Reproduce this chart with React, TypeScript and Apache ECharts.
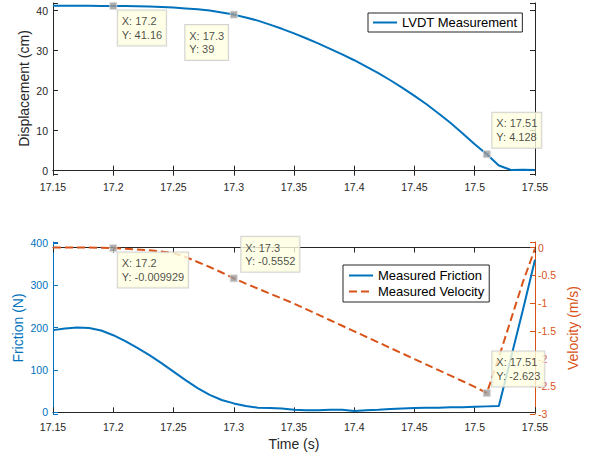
import React, { useEffect, useRef } from 'react';
import * as echarts from 'echarts';

const times = [
  17.15, 17.16, 17.17, 17.18, 17.19, 17.2, 17.21, 17.22, 17.23, 17.24,
  17.25, 17.26, 17.27, 17.28, 17.29, 17.3, 17.31, 17.32, 17.33, 17.34,
  17.35, 17.36, 17.37, 17.38, 17.39, 17.4, 17.41, 17.42, 17.43, 17.44,
  17.45, 17.46, 17.47, 17.48, 17.49, 17.5, 17.51, 17.52, 17.53, 17.54, 17.55,
];

const displacement = [
  41.2, 41.2, 41.2, 41.19, 41.18, 41.16, 41.13, 41.08, 41.0, 40.9,
  40.75, 40.55, 40.35, 40.0, 39.55, 39.0, 38.3, 37.5, 36.5, 35.45,
  34.3, 33.1, 31.8, 30.45, 29.05, 27.6, 26.0, 24.4, 22.6, 20.7,
  18.7, 16.6, 14.3, 11.9, 9.3, 6.6, 4.128, 1.3, 0.2, 0.25, 0.2,
];

const friction = [
  194, 198, 200, 199, 193, 182, 168, 152, 135, 116,
  96, 76, 57, 41, 29, 21, 15, 11, 10, 9,
  6, 5, 5, 6, 6, 3, 5, 6, 8, 9,
  10, 11, 11, 12, 12, 13, 14, 15, 128, 242, 360,
];

const velocity = [
  0, 0, 0, 0, -0.005, -0.009929, -0.02, -0.035, -0.05, -0.07,
  -0.1, -0.17, -0.26, -0.35, -0.45, -0.5552, -0.65, -0.74, -0.83, -0.92,
  -1.01, -1.11, -1.21, -1.31, -1.41, -1.51, -1.61, -1.71, -1.81, -1.91,
  -2.01, -2.11, -2.21, -2.31, -2.41, -2.51, -2.623, -1.98, -1.3, -0.62, -0.02,
];

const xTickMin = 17.15;
const xTickMax = 17.55;
const xTickStep = 0.05;

const tipTimesTop = [17.2, 17.3, 17.51];
const tipValuesTop = [41.16, 39, 4.128];
const tipTimesBottom = [17.2, 17.3, 17.51];
const tipValuesBottom = [-0.009929, -0.5552, -2.623];

const BLUE = '#0072BD';
const ORANGE = '#D95319';
const AXIS = '#262626';
const FONT = '"Liberation Sans", Arial, Helvetica, sans-serif';

type Place = { dx: number; dy: number; va: string };
const placeTop: Place[] = [
  { dx: 5, dy: 5, va: 'top' },
  { dx: -48, dy: 11, va: 'top' },
  { dx: 6, dy: -6, va: 'bottom' },
];
const placeBottom: Place[] = [
  { dx: 5, dy: 5, va: 'top' },
  { dx: 8, dy: -6, va: 'bottom' },
  { dx: 6, dy: -6, va: 'bottom' },
];

const SYM = 7;

function tipData(ts: number[], vs: number[], places: Place[]) {
  return ts.map((t, i) => ({
    value: [t, vs[i]],
    label: {
      show: true,
      formatter: `X: ${t}\nY: ${vs[i]}`,
      position: [SYM / 2 + places[i].dx, SYM / 2 + places[i].dy],
      align: 'left',
      verticalAlign: places[i].va,
      backgroundColor: '#FFFFE1',
      borderColor: '#C8C8C8',
      borderWidth: 1,
      padding: [4, 4, 4, 4],
      fontSize: 11,
      lineHeight: 13.5,
      color: '#1a1a1a',
      fontFamily: FONT,
    },
  }));
}

const xFmt = (v: number) => String(Math.round(v * 100) / 100);

function xAxisCfg(gridIndex: number, bottom: boolean, withName: boolean) {
  return {
    type: 'value',
    gridIndex,
    position: bottom ? 'bottom' : 'top',
    min: xTickMin,
    max: xTickMax,
    interval: xTickStep,
    name: withName ? 'Time (s)' : '',
    nameLocation: 'middle',
    nameGap: 23,
    nameMoveOverlap: false,
    nameTextStyle: { fontSize: 14, color: AXIS, fontFamily: FONT },
    axisLine: { show: true, lineStyle: { color: AXIS, width: 1 } },
    axisTick: { show: true, inside: true, length: 5, lineStyle: { color: AXIS } },
    axisLabel: {
      show: bottom,
      formatter: xFmt,
      fontSize: 10.5,
      color: AXIS,
      fontFamily: FONT,
      margin: 7,
    },
    splitLine: { show: false },
  };
}

const legendCommon = {
  orient: 'vertical',
  itemWidth: 24,
  itemHeight: 14,
  itemGap: 3,
  borderColor: AXIS,
  borderWidth: 1,
  borderRadius: 0,
  backgroundColor: '#fff',
  itemStyle: { opacity: 0 },
  textStyle: { fontSize: 13, color: '#000', fontFamily: FONT },
};

const option: any = {
  animation: false,
  backgroundColor: '#fff',
  grid: [
    { left: 53, top: 3, width: 482, height: 171 },
    { left: 53, top: 242, width: 482, height: 172 },
  ],
  xAxis: [
    xAxisCfg(0, true, false),
    xAxisCfg(0, false, false),
    xAxisCfg(1, true, true),
    xAxisCfg(1, false, false),
  ],
  yAxis: [
    {
      type: 'value',
      gridIndex: 0,
      position: 'left',
      min: -0.82,
      max: 41.9,
      name: 'Displacement (cm)',
      nameLocation: 'middle',
      nameGap: 22,
      nameMoveOverlap: false,
      nameRotate: 90,
      nameTextStyle: { fontSize: 14, color: AXIS, fontFamily: FONT },
      axisLine: { show: true, lineStyle: { color: AXIS } },
      axisTick: { show: true, inside: true, length: 5, lineStyle: { color: AXIS } },
      axisLabel: {
        formatter: (v: number) =>
          Math.abs(v - Math.round(v / 10) * 10) < 1e-6 ? String(Math.round(v)) : '',
        fontSize: 10.5,
        color: AXIS,
        fontFamily: FONT,
        margin: 5,
      },
      splitLine: { show: false },
    },
    {
      type: 'value',
      gridIndex: 0,
      position: 'right',
      min: -0.82,
      max: 41.9,
      axisLine: { show: true, lineStyle: { color: AXIS } },
      axisTick: { show: true, inside: true, length: 5, lineStyle: { color: AXIS } },
      axisLabel: { show: false },
      splitLine: { show: false },
    },
    {
      type: 'value',
      gridIndex: 1,
      position: 'left',
      min: -4,
      max: 402,
      name: 'Friction (N)',
      nameLocation: 'middle',
      nameGap: 28,
      nameMoveOverlap: false,
      nameRotate: 90,
      nameTextStyle: { fontSize: 14, color: BLUE, fontFamily: FONT },
      axisLine: { show: true, lineStyle: { color: BLUE } },
      axisTick: { show: true, inside: true, length: 5, lineStyle: { color: BLUE } },
      axisLabel: {
        formatter: (v: number) =>
          Math.abs(v - Math.round(v / 100) * 100) < 1e-6 ? String(Math.round(v)) : '',
        fontSize: 10.5,
        color: BLUE,
        fontFamily: FONT,
        margin: 5,
      },
      splitLine: { show: false },
    },
    {
      type: 'value',
      gridIndex: 1,
      position: 'right',
      min: -3,
      max: 0.1,
      interval: 0.5,
      name: 'Velocity (m/s)',
      nameLocation: 'middle',
      nameGap: 31,
      nameMoveOverlap: false,
      nameRotate: 90,
      nameTextStyle: { fontSize: 14, color: ORANGE, fontFamily: FONT },
      axisLine: { show: true, lineStyle: { color: ORANGE } },
      axisTick: { show: true, inside: true, length: 5, lineStyle: { color: ORANGE } },
      axisLabel: {
        formatter: (v: number) =>
          Math.abs(v * 2 - Math.round(v * 2)) < 1e-6 ? String(Math.round(v * 10) / 10) : '',
        fontSize: 10.5,
        color: ORANGE,
        fontFamily: FONT,
        margin: 3,
      },
      splitLine: { show: false },
    },
  ],
  legend: [
    {
      ...legendCommon,
      data: ['LVDT Measurement'],
      left: 368,
      top: 13,
      padding: [3, 5, 3, 4],
    },
    {
      ...legendCommon,
      data: ['Measured Friction', 'Measured Velocity'],
      left: 343,
      top: 265,
      padding: [4, 5, 4, 5],
    },
  ],
  series: [
    {
      type: 'line',
      name: 'LVDT Measurement',
      xAxisIndex: 0,
      yAxisIndex: 0,
      data: times.map((t, i) => [t, displacement[i]]),
      symbol: 'none',
      lineStyle: { color: BLUE, width: 2 },
      itemStyle: { color: BLUE },
    },
    {
      type: 'line',
      name: 'Measured Friction',
      xAxisIndex: 2,
      yAxisIndex: 2,
      data: times.map((t, i) => [t, friction[i]]),
      symbol: 'none',
      lineStyle: { color: BLUE, width: 2 },
      itemStyle: { color: BLUE },
    },
    {
      type: 'line',
      name: 'Measured Velocity',
      xAxisIndex: 2,
      yAxisIndex: 3,
      data: times.map((t, i) => [t, velocity[i]]),
      symbol: 'none',
      lineStyle: { color: ORANGE, width: 2, type: [8, 4] },
      itemStyle: { color: ORANGE },
    },
    {
      type: 'scatter',
      name: 'tipsTop',
      xAxisIndex: 0,
      yAxisIndex: 0,
      symbol: 'rect',
      symbolSize: SYM,
      itemStyle: { color: '#999999', borderColor: '#d9d9d9', borderWidth: 1 },
      z: 10,
      data: tipData(tipTimesTop, tipValuesTop, placeTop),
    },
    {
      type: 'scatter',
      name: 'tipsBottom',
      xAxisIndex: 2,
      yAxisIndex: 3,
      symbol: 'rect',
      symbolSize: SYM,
      itemStyle: { color: '#999999', borderColor: '#d9d9d9', borderWidth: 1 },
      z: 10,
      data: tipData(tipTimesBottom, tipValuesBottom, placeBottom),
    },
  ],
};

export default function App() {
  const ref = useRef<HTMLDivElement>(null);
  useEffect(() => {
    document.body.style.margin = '0';
    const chart = echarts.init(ref.current!, null, { renderer: 'svg' });
    chart.setOption(option);
    return () => chart.dispose();
  }, []);
  return <div ref={ref} style={{ width: 595, height: 459 }} />;
}
